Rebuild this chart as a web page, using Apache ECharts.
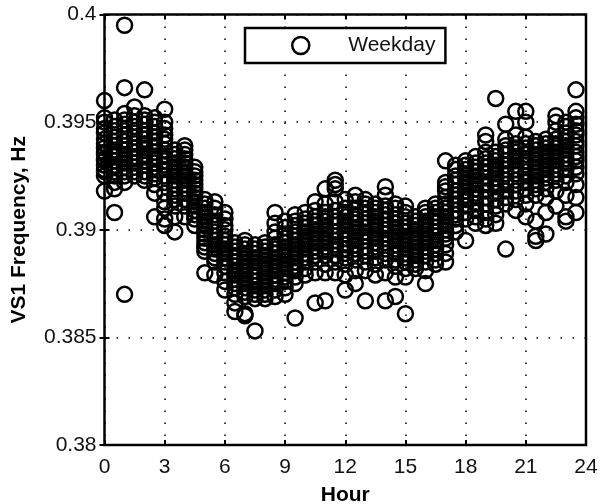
<!DOCTYPE html>
<html><head><meta charset="utf-8">
<style>html,body{margin:0;padding:0;background:#fff}#c{width:600px;height:504px}</style>
<script src="https://cdn.jsdelivr.net/npm/echarts@6/dist/echarts.min.js"></script>
</head><body><div id="c"></div>
<script>
const hours=[0,0.5,1,1.5,2,2.5,3,3.5,4,4.5,5,5.5,6,6.5,7,7.5,8,8.5,9,9.5,10,10.5,11,11.5,12,12.5,13,13.5,14,14.5,15,15.5,16,16.5,17,17.5,18,18.5,19,19.5,20,20.5,21,21.5,22,22.5,23,23.5];
const frequencies=[
[.3960,.3952,.3950,.3947,.3945,.3942,.3940,.3938,.3936,.3935,.3933,.3932,.3930,.3928,.3927,.3925,.3918],
[.3951,.3948,.3946,.3943,.3941,.3939,.3937,.3935,.3934,.3932,.3930,.3929,.3927,.3925,.3922,.3919,.3908],
[.3995,.3966,.3954,.3951,.3949,.3946,.3944,.3941,.3939,.3937,.3935,.3933,.3931,.3929,.3927,.3925,.3922,.3870],
[.3957,.3953,.3950,.3948,.3945,.3943,.3940,.3938,.3936,.3934,.3933,.3931,.3929,.3927,.3925],
[.3965,.3953,.3951,.3949,.3946,.3944,.3942,.3940,.3938,.3935,.3934,.3932,.3930,.3927,.3925,.3923],
[.3952,.3950,.3948,.3945,.3943,.3941,.3939,.3936,.3934,.3933,.3931,.3929,.3926,.3924,.3921,.3917,.3906],
[.3956,.3950,.3947,.3944,.3942,.3940,.3937,.3934,.3932,.3930,.3928,.3925,.3922,.3917,.3913,.3910,.3905,.3902],
[.3937,.3935,.3933,.3931,.3929,.3927,.3925,.3923,.3921,.3919,.3916,.3914,.3911,.3906,.3899],
[.3939,.3937,.3935,.3933,.3931,.3929,.3927,.3925,.3923,.3921,.3919,.3917,.3914,.3911,.3906],
[.3929,.3927,.3925,.3923,.3921,.3919,.3917,.3915,.3913,.3911,.3909,.3907,.3905,.3902],
[.3914,.3912,.3910,.3908,.3906,.3904,.3902,.3900,.3898,.3896,.3894,.3892,.3890,.3880],
[.3913,.3910,.3907,.3904,.3902,.3899,.3897,.3895,.3893,.3891,.3889,.3887,.3885,.3879],
[.3908,.3905,.3902,.3900,.3897,.3895,.3893,.3891,.3889,.3887,.3885,.3883,.3880,.3876,.3872],
[.3894,.3892,.3890,.3888,.3887,.3885,.3883,.3881,.3879,.3877,.3875,.3873,.3870,.3866,.3862],
[.3895,.3893,.3891,.3889,.3887,.3885,.3883,.3881,.3879,.3877,.3875,.3873,.3871,.3869,.3861,.3860],
[.3893,.3891,.3889,.3887,.3885,.3883,.3881,.3879,.3878,.3876,.3874,.3872,.3870,.3868,.3853],
[.3894,.3892,.3890,.3888,.3886,.3884,.3882,.3880,.3878,.3876,.3874,.3872,.3870,.3868],
[.3908,.3903,.3899,.3896,.3893,.3891,.3889,.3887,.3885,.3883,.3881,.3879,.3877,.3875,.3872,.3869],
[.3904,.3901,.3898,.3896,.3894,.3892,.3890,.3888,.3886,.3884,.3882,.3880,.3878,.3876,.3873,.3870],
[.3907,.3904,.3902,.3899,.3897,.3895,.3893,.3891,.3889,.3887,.3885,.3883,.3881,.3878,.3875,.3859],
[.3908,.3905,.3903,.3901,.3899,.3897,.3895,.3893,.3891,.3889,.3887,.3885,.3882,.3879],
[.3913,.3909,.3906,.3904,.3902,.3900,.3898,.3896,.3894,.3892,.3890,.3888,.3885,.3880,.3866],
[.3919,.3912,.3908,.3906,.3904,.3902,.3900,.3898,.3896,.3894,.3892,.3890,.3888,.3884,.3880,.3867],
[.3923,.3921,.3919,.3913,.3909,.3906,.3904,.3902,.3899,.3897,.3895,.3893,.3891,.3888,.3885,.3880],
[.3914,.3910,.3908,.3906,.3904,.3902,.3900,.3898,.3896,.3893,.3891,.3889,.3887,.3884,.3879,.3872],
[.3916,.3913,.3910,.3907,.3905,.3903,.3901,.3899,.3897,.3895,.3893,.3891,.3889,.3886,.3881,.3875],
[.3914,.3912,.3910,.3908,.3905,.3903,.3901,.3899,.3897,.3895,.3892,.3890,.3888,.3885,.3881,.3867],
[.3912,.3910,.3908,.3906,.3904,.3902,.3900,.3898,.3896,.3894,.3892,.3890,.3887,.3884,.3879],
[.3920,.3916,.3911,.3909,.3907,.3905,.3902,.3900,.3898,.3896,.3894,.3891,.3889,.3886,.3880,.3867],
[.3912,.3910,.3907,.3905,.3903,.3901,.3899,.3897,.3895,.3893,.3891,.3889,.3886,.3883,.3878,.3869],
[.3911,.3908,.3906,.3903,.3901,.3899,.3897,.3895,.3893,.3891,.3889,.3887,.3885,.3882,.3878,.3861],
[.3906,.3904,.3902,.3900,.3898,.3896,.3894,.3892,.3890,.3888,.3886,.3884,.3882],
[.3910,.3908,.3906,.3904,.3902,.3900,.3898,.3896,.3894,.3892,.3890,.3888,.3885,.3881,.3875],
[.3912,.3910,.3908,.3906,.3904,.3901,.3899,.3897,.3895,.3893,.3891,.3889,.3886,.3884],
[.3932,.3922,.3920,.3918,.3915,.3912,.3910,.3908,.3906,.3904,.3902,.3900,.3898,.3896,.3893,.3889,.3885],
[.3930,.3928,.3925,.3923,.3921,.3918,.3916,.3914,.3912,.3909,.3907,.3905,.3902,.3899],
[.3932,.3930,.3928,.3926,.3924,.3922,.3920,.3918,.3916,.3914,.3911,.3908,.3905,.3895],
[.3934,.3931,.3929,.3927,.3925,.3923,.3921,.3919,.3917,.3915,.3912,.3909,.3906,.3903],
[.3944,.3941,.3936,.3933,.3931,.3929,.3927,.3924,.3921,.3918,.3915,.3912,.3908,.3905,.3902],
[.3961,.3936,.3934,.3932,.3930,.3928,.3926,.3924,.3922,.3920,.3917,.3914,.3911,.3907,.3903],
[.3949,.3942,.3939,.3937,.3935,.3932,.3930,.3928,.3926,.3923,.3921,.3918,.3915,.3912,.3891],
[.3955,.3944,.3940,.3938,.3936,.3934,.3932,.3930,.3928,.3926,.3923,.3921,.3918,.3914,.3909],
[.3955,.3950,.3943,.3940,.3938,.3935,.3932,.3930,.3927,.3925,.3922,.3919,.3916,.3912,.3906],
[.3941,.3939,.3937,.3935,.3933,.3931,.3929,.3927,.3925,.3923,.3921,.3919,.3916,.3904,.3897,.3895],
[.3942,.3940,.3938,.3936,.3934,.3932,.3930,.3928,.3926,.3924,.3922,.3919,.3915,.3908,.3898],
[.3953,.3950,.3946,.3942,.3940,.3938,.3936,.3934,.3932,.3930,.3928,.3926,.3923,.3918,.3911],
[.3950,.3948,.3945,.3943,.3941,.3939,.3937,.3935,.3933,.3931,.3928,.3925,.3922,.3916,.3906,.3904],
[.3965,.3955,.3952,.3949,.3946,.3944,.3941,.3939,.3936,.3934,.3932,.3929,.3926,.3921,.3915,.3908]
];
const points=[];
hours.forEach((h,i)=>frequencies[i].forEach(v=>points.push([h,v])));
const xTicks={min:0,max:24,interval:3};
const yTicks={min:0.38,max:0.4,interval:0.005};
const font='"Liberation Sans",Arial,sans-serif';
const ink='#000';
const tick={show:true,inside:true,length:5,lineStyle:{color:ink,width:2}};
const chart=echarts.init(document.getElementById('c'),null,{renderer:'canvas'});
chart.setOption({
  animation:false,
  backgroundColor:'#fff',
  grid:{left:104.5,right:14,top:14.5,bottom:59,outerBoundsMode:'none',show:true,borderColor:ink,borderWidth:2.5,backgroundColor:'transparent'},
  legend:{
    show:true,left:245,top:28,data:[{name:'Weekday',icon:'circle'}],
    backgroundColor:'#fff',borderColor:ink,borderWidth:2.5,borderRadius:0,
    padding:[7,10,7,46],itemWidth:17,itemHeight:17,
    itemStyle:{color:'transparent',borderColor:ink,borderWidth:2.5},
    textStyle:{fontFamily:font,fontSize:21,color:'#111',padding:[0,0,0,34]}
  },
  xAxis:[
    {type:'value',...xTicks,position:'bottom',
     name:'Hour',nameLocation:'middle',nameGap:40,
     nameTextStyle:{fontFamily:font,fontWeight:'bold',fontSize:21,color:ink},
     axisLine:{show:false},axisTick:tick,
     axisLabel:{fontFamily:font,fontSize:21,color:'#111',margin:12,showMinLabel:true,showMaxLabel:true},
     splitLine:{show:true,lineStyle:{color:ink,width:1.5,type:[1.5,10.5]}}},
    {type:'value',...xTicks,position:'top',axisLine:{show:false},axisTick:tick,axisLabel:{show:false},splitLine:{show:false}}
  ],
  yAxis:[
    {type:'value',...yTicks,position:'left',
     name:'VS1 Frequency, Hz',nameLocation:'middle',nameGap:75,
     nameTextStyle:{fontFamily:font,fontWeight:'bold',fontSize:21,color:ink},
     axisLine:{show:false},axisTick:tick,
     axisLabel:{fontFamily:font,fontSize:21,color:'#111',margin:8,showMinLabel:true,showMaxLabel:true},
     splitLine:{show:true,lineStyle:{color:ink,width:1.5,type:[1.5,10.5]}}},
    {type:'value',...yTicks,position:'right',axisLine:{show:false},axisTick:tick,axisLabel:{show:false},splitLine:{show:false}}
  ],
  series:[{
    name:'Weekday',type:'scatter',data:points,symbol:'circle',symbolSize:15,clip:true,
    itemStyle:{color:'transparent',borderColor:ink,borderWidth:2.5,opacity:1}
  }]
});
</script></body></html>
